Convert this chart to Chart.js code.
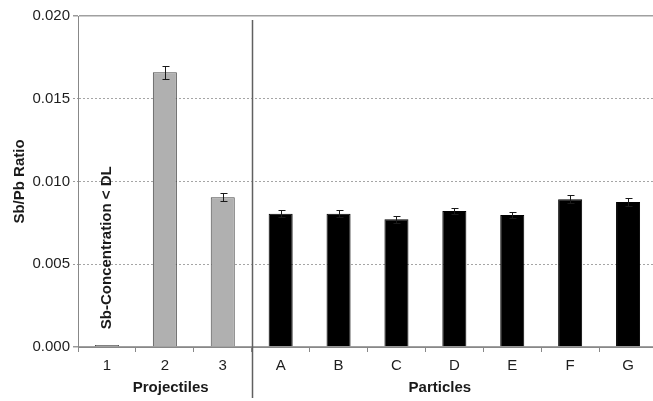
<!DOCTYPE html>
<html>
<head>
<meta charset="utf-8">
<script src="https://cdn.jsdelivr.net/npm/chart.js@4/dist/chart.umd.min.js"></script>
<style>
  html, body { margin: 0; padding: 0; background: #fff; overflow: hidden; }
  #wrap { width: 657px; height: 401px; }
</style>
</head>
<body>
<div id="wrap"><canvas id="c" width="657" height="401"></canvas></div>
<script>
// Sample names: three projectiles followed by seven particles
const categories = ['1', '2', '3', 'A', 'B', 'C', 'D', 'E', 'F', 'G'];
const sampleGroup = ['proj', 'proj', 'proj', 'part', 'part', 'part', 'part', 'part', 'part', 'part'];
// Sb/Pb ratio and its standard deviation per sample
const ratios = [0, 0.0166, 0.00905, 0.00805, 0.00805, 0.00772, 0.00822, 0.00798, 0.00893, 0.00876];
const errors = [0, 0.0004, 0.00025, 0.0002, 0.0002, 0.0002, 0.0002, 0.0002, 0.00025, 0.00025];
const yTicks = [0, 0.005, 0.010, 0.015, 0.020];
const groupNames = ['Projectiles', 'Particles'];
const belowLimitNote = 'Sb-Concentration < DL';
const yTitle = 'Sb/Pb Ratio';

const FONT = '"Liberation Sans", Arial, Helvetica, sans-serif';

const extras = {
  id: 'extras',
  afterDatasetsDraw(chart) {
    const { ctx, chartArea: a, scales: { x, y } } = chart;
    const meta = chart.getDatasetMeta(0);
    ctx.save();

    // error bars
    ctx.strokeStyle = '#1a1a1a';
    ctx.lineWidth = 1;
    meta.data.forEach((bar, i) => {
      const e = errors[i];
      if (!e) return;
      const cx = Math.round(bar.x) + 0.5;
      const t = Math.round(y.getPixelForValue(ratios[i] + e)) + 0.5;
      const b = Math.round(y.getPixelForValue(ratios[i] - e)) + 0.5;
      ctx.beginPath();
      ctx.moveTo(cx, t); ctx.lineTo(cx, b);
      ctx.moveTo(cx - 3, t); ctx.lineTo(cx + 4, t);
      ctx.moveTo(cx - 3, b); ctx.lineTo(cx + 4, b);
      ctx.stroke();
    });

    // divider between the two sample groups
    const sx = Math.round((x.getPixelForValue(2) + x.getPixelForValue(3)) / 2) + 0.5;
    ctx.strokeStyle = '#606060';
    ctx.lineWidth = 1.5;
    ctx.beginPath();
    ctx.moveTo(sx, a.top + 4);
    ctx.lineTo(sx, chart.height - 3);
    ctx.stroke();

    ctx.fillStyle = '#1a1a1a';
    ctx.textAlign = 'center';
    ctx.textBaseline = 'middle';

    // group captions
    ctx.font = 'bold 15px ' + FONT;
    ctx.fillText(groupNames[0], x.getPixelForValue(1.1), 388);
    ctx.fillText(groupNames[1], x.getPixelForValue(5.75), 388);

    // y axis title
    ctx.save();
    ctx.translate(20, (a.top + a.bottom) / 2);
    ctx.rotate(-Math.PI / 2);
    ctx.font = 'bold 15px ' + FONT;
    ctx.fillText(yTitle, 0, 0);
    ctx.restore();

    // note for the sample below detection limit
    ctx.save();
    ctx.translate(x.getPixelForValue(0), y.getPixelForValue(0.006));
    ctx.rotate(-Math.PI / 2);
    ctx.font = 'bold 15px ' + FONT;
    ctx.fillText(belowLimitNote, 0, 0);
    ctx.restore();

    ctx.restore();
  }
};

const isDashed = (ctx) => ctx.tick && ctx.tick.value > 0 && ctx.tick.value < 0.02;

new Chart(document.getElementById('c'), {
  type: 'bar',
  data: {
    labels: categories,
    datasets: [{
      data: ratios,
      backgroundColor: sampleGroup.map(g => g === 'proj' ? '#b0b0b0' : '#000000'),
      borderColor: sampleGroup.map(g => g === 'proj' ? '#474747' : '#000000'),
      borderWidth: 1,
      minBarLength: 2,
      categoryPercentage: 1,
      barPercentage: 0.415
    }]
  },
  options: {
    responsive: false,
    devicePixelRatio: 1,
    animation: false,
    layout: { padding: { top: 16, left: 0, right: 0, bottom: 0 } },
    plugins: { legend: { display: false }, tooltip: { enabled: false } },
    scales: {
      x: {
        afterFit: (s) => { s.height = 54; },
        grid: {
          drawOnChartArea: false,
          drawTicks: true,
          tickLength: 5,
          tickColor: '#888',
          offset: true
        },
        border: { display: true, color: '#888', width: 1 },
        ticks: {
          color: '#1e1e1e',
          padding: 5,
          font: { family: FONT, size: 15 }
        }
      },
      y: {
        min: 0,
        max: 0.02,
        afterFit: (s) => { s.width = 78; },
        afterBuildTicks: (s) => { s.ticks = yTicks.map(v => ({ value: v })); },
        grid: {
          color: (c) => isDashed(c) ? '#a5a5a5' : '#a0a0a0',
          lineWidth: (c) => isDashed(c) ? 1 : 1.5,
          tickLength: 5,
          tickColor: '#9a9a9a',
          tickBorderDash: (c) => isDashed(c) ? [2, 2] : []
        },
        border: {
          display: true,
          color: '#888',
          width: 1,
          dash: (c) => isDashed(c) ? [2, 2] : []
        },
        ticks: {
          color: '#1e1e1e',
          padding: 3,
          font: { family: FONT, size: 15 },
          callback: (v) => Number(v).toFixed(3)
        }
      }
    }
  },
  plugins: [extras]
});
</script>
</body>
</html>
